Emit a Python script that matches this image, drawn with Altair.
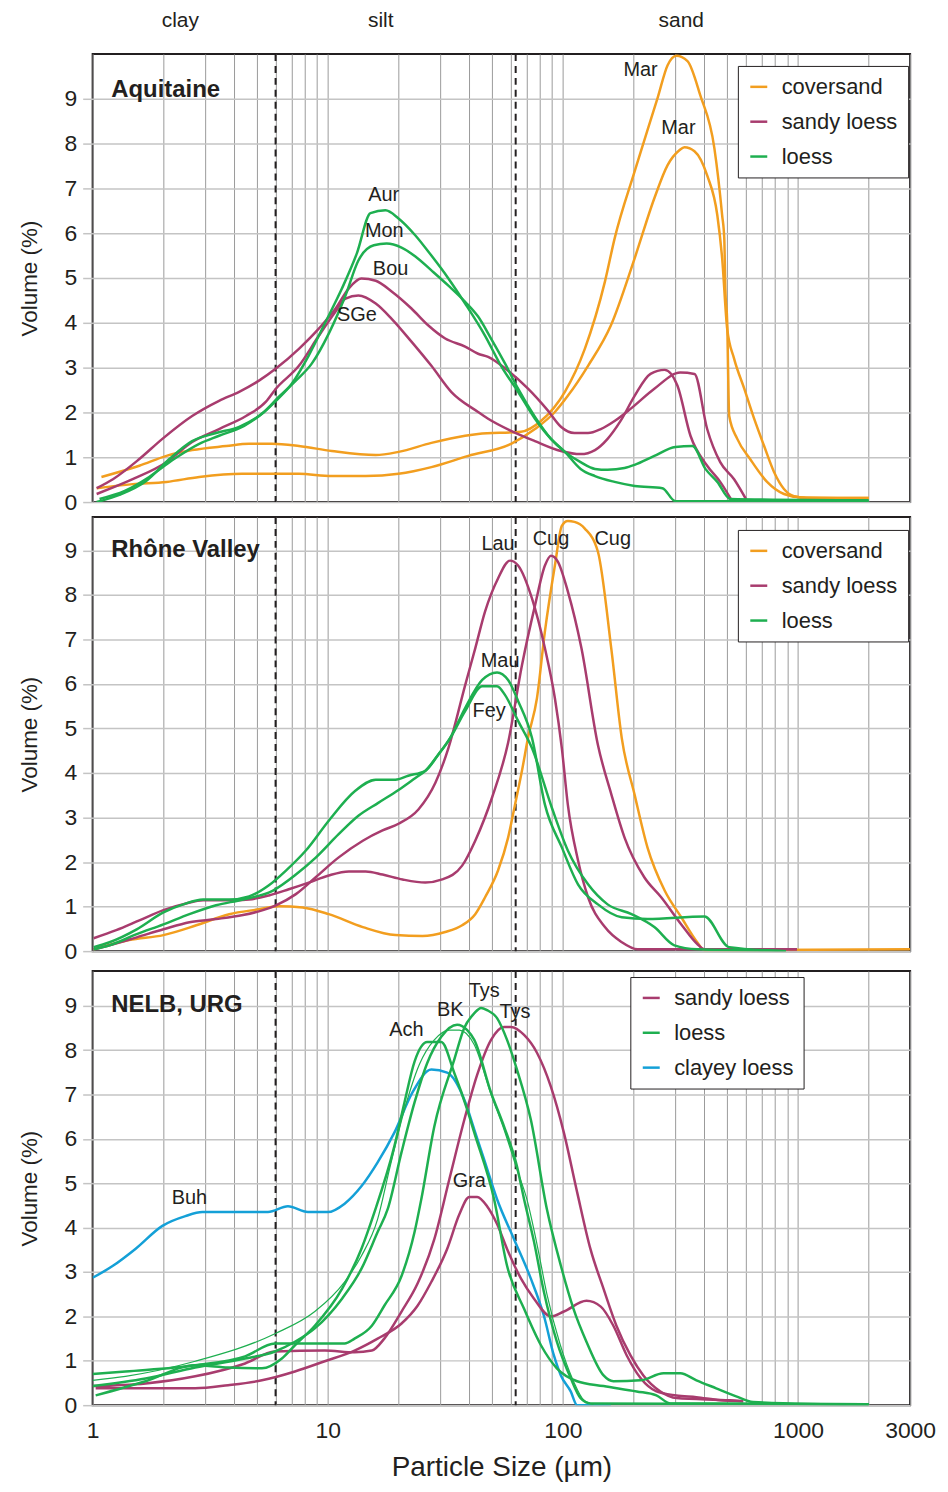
import altair as alt
import pandas as pd

# ------------------------------------------------------------------ data
# Panel 1 : Aquitaine  (x = particle size in µm, y = volume %)
aq_mar1_x = [1.09, 1.58, 2.06, 2.65, 3.70, 4.63, 5.79, 7.54, 10.4, 16.0, 20.0, 27.6, 38.4, 43.6, 66.4, 80.7, 102, 124, 151, 166, 202, 253, 279, 304, 339, 384, 441, 476, 486, 491, 500, 510, 552, 626, 739, 872, 1019, 2000]
aq_mar1_y = [0.56, 0.81, 1.03, 1.16, 1.25, 1.30, 1.30, 1.25, 1.14, 1.05, 1.12, 1.32, 1.48, 1.52, 1.57, 1.81, 2.46, 3.42, 4.92, 5.88, 7.38, 9.02, 9.75, 9.96, 9.84, 9.08, 7.90, 6.40, 5.88, 4.77, 4.03, 1.92, 1.41, 0.96, 0.45, 0.18, 0.11, 0.09]
aq_mar2_x = [1.04, 1.48, 2.06, 2.84, 4.32, 6.02, 7.54, 10.4, 14.5, 20.0, 27.6, 39.6, 60.2, 76.1, 92.5, 105, 128, 160, 202, 245, 279, 313, 329, 363, 411, 454, 476, 500, 535, 591, 651, 718, 791, 872, 962, 1091, 2000]
aq_mar2_y = [0.31, 0.40, 0.45, 0.56, 0.63, 0.63, 0.63, 0.58, 0.58, 0.63, 0.78, 1.03, 1.30, 1.63, 2.01, 2.37, 3.04, 3.94, 5.44, 6.78, 7.52, 7.85, 7.92, 7.83, 7.29, 6.40, 5.44, 3.87, 3.20, 2.53, 1.86, 1.25, 0.67, 0.29, 0.13, 0.09, 0.09]
aq_bou_x = [1.04, 1.22, 1.58, 1.98, 2.65, 3.45, 4.20, 5.10, 6.02, 7.54, 9.16, 10.8, 12.3, 13.9, 16.0, 18.7, 22.7, 26.8, 31.6, 38.4, 43.6, 48.1, 58.5, 71.1, 86.4, 98.1, 112, 128, 145, 166, 194, 245, 316, 363, 411, 467, 535, 608]
aq_bou_y = [0.31, 0.51, 0.96, 1.41, 1.92, 2.26, 2.46, 2.71, 2.98, 3.42, 3.87, 4.32, 4.77, 4.99, 4.94, 4.70, 4.32, 3.94, 3.65, 3.47, 3.31, 3.24, 2.93, 2.53, 2.04, 1.68, 1.54, 1.54, 1.63, 1.81, 2.08, 2.53, 2.89, 2.86, 1.63, 0.89, 0.51, 0.02]
aq_sge_x = [1.04, 1.48, 2.06, 2.65, 3.45, 4.49, 5.46, 6.02, 7.54, 9.16, 10.8, 11.9, 13.5, 16.0, 18.7, 22.7, 27.6, 33.5, 43.6, 48.1, 60.2, 76.1, 98.1, 119, 137, 155, 176, 202, 236, 271, 307, 349, 411, 467, 525]
aq_sge_y = [0.18, 0.51, 0.89, 1.34, 1.63, 1.92, 2.24, 2.53, 3.04, 3.71, 4.25, 4.54, 4.61, 4.43, 4.09, 3.58, 3.04, 2.46, 2.01, 1.86, 1.59, 1.36, 1.14, 1.07, 1.16, 1.41, 1.81, 2.37, 2.86, 2.95, 2.60, 1.48, 0.81, 0.45, 0.02]
aq_aur_x = [1.04, 1.30, 1.69, 2.12, 2.65, 3.35, 4.20, 5.25, 6.02, 7.03, 8.30, 9.81, 11.5, 13.3, 15.2, 17.6, 20.0, 23.6, 27.6, 32.6, 38.4, 46.7, 54.6, 64.5, 76.1, 89.0, 102, 119, 137, 166, 202, 265, 301, 2000]
aq_aur_y = [0.00, 0.16, 0.47, 0.96, 1.36, 1.54, 1.68, 1.97, 2.26, 2.64, 3.27, 4.03, 4.77, 5.55, 6.45, 6.51, 6.33, 5.95, 5.50, 4.99, 4.43, 3.71, 3.04, 2.46, 1.86, 1.41, 1.12, 0.74, 0.58, 0.45, 0.36, 0.31, 0.02, 0.02]
aq_mon_x = [1.07, 1.37, 1.74, 2.22, 2.84, 3.45, 4.41, 5.35, 6.20, 7.32, 8.55, 10.1, 11.9, 13.5, 15.7, 17.8, 20.6, 23.6, 27.6, 32.6, 38.4, 43.6, 49.5, 56.8, 64.5, 76.1, 89.0, 102, 119, 137, 155, 183, 202, 245, 301, 356, 404, 454, 515, 2000]
aq_mon_y = [0.07, 0.25, 0.56, 0.96, 1.30, 1.48, 1.70, 2.01, 2.35, 2.71, 3.09, 3.76, 4.61, 5.39, 5.73, 5.77, 5.68, 5.48, 5.17, 4.83, 4.47, 4.14, 3.65, 3.09, 2.53, 1.90, 1.41, 1.12, 0.89, 0.74, 0.72, 0.76, 0.83, 1.03, 1.23, 1.25, 0.74, 0.45, 0.07, 0.04]
aq_lbl_text = ["Mar", "Mar", "Aur", "Mon", "Bou", "SGe"]
aq_lbl_x = [214, 310, 17.3, 17.4, 18.5, 13.3]
aq_lbl_y = [9.64, 8.34, 6.85, 6.04, 5.21, 4.18]

# Panel 2 : Rhône Valley
rh_cugo_x = [1.01, 1.43, 2.00, 2.76, 3.81, 5.10, 6.20, 7.83, 10.1, 14.1, 19.4, 25.3, 31.6, 37.3, 42.4, 46.7, 53.0, 58.5, 62.6, 67.0, 71.1, 77.6, 83.9, 92.5, 99.0, 105, 112, 124, 141, 161, 178, 202, 229, 271, 319, 373, 400, 3000]
rh_cugo_y = [0.04, 0.25, 0.36, 0.58, 0.83, 0.94, 1.01, 0.98, 0.83, 0.54, 0.36, 0.34, 0.43, 0.58, 0.83, 1.21, 1.81, 2.55, 3.29, 4.05, 4.79, 5.68, 7.18, 8.66, 9.55, 9.66, 9.64, 9.49, 8.97, 6.76, 4.79, 3.51, 2.33, 1.36, 0.76, 0.20, 0.02, 0.04]
rh_lau_x = [1.01, 1.18, 1.54, 2.00, 2.58, 3.35, 4.36, 5.30, 6.02, 7.32, 8.89, 11.1, 14.1, 17.1, 20.0, 24.3, 28.7, 32.6, 38.4, 42.4, 46.7, 53.0, 59.6, 64.5, 73.9, 83.9, 92.5, 99.0, 105, 116, 128, 151, 178, 208, 990]
rh_lau_y = [0.04, 0.13, 0.31, 0.49, 0.65, 0.72, 0.81, 0.92, 1.03, 1.28, 1.66, 2.10, 2.48, 2.71, 2.86, 3.18, 3.78, 4.56, 5.97, 6.80, 7.63, 8.37, 8.77, 8.66, 7.92, 6.80, 5.68, 4.56, 3.29, 2.04, 1.21, 0.54, 0.20, 0.04, 0.04]
rh_cugp_x = [1.01, 1.26, 1.58, 2.00, 2.50, 2.95, 3.81, 4.63, 5.62, 6.83, 8.30, 10.1, 12.3, 14.5, 17.1, 20.8, 26.0, 30.7, 37.3, 42.4, 50.0, 58.5, 67.0, 76.1, 83.9, 89.0, 95.2, 105, 120, 141, 161, 183, 222, 262, 319, 373, 400, 990]
rh_cugp_y = [0.29, 0.47, 0.69, 0.92, 1.07, 1.14, 1.14, 1.16, 1.25, 1.39, 1.54, 1.70, 1.79, 1.79, 1.72, 1.61, 1.54, 1.61, 1.92, 2.48, 3.45, 4.68, 6.42, 7.76, 8.66, 8.88, 8.75, 8.08, 6.80, 4.63, 3.51, 2.55, 1.66, 1.21, 0.60, 0.16, 0.04, 0.04]
rh_mau_x = [1.01, 1.18, 1.54, 2.00, 2.43, 2.95, 3.81, 4.63, 5.62, 6.64, 8.07, 10.1, 13.1, 16.0, 19.4, 22.0, 26.0, 29.5, 33.2, 38.4, 45.4, 52.5, 58.5, 64.5, 73.9, 83.9, 99.0, 116, 141, 178, 229, 400, 510, 889]
rh_mau_y = [0.09, 0.20, 0.49, 0.87, 1.05, 1.16, 1.16, 1.23, 1.48, 1.81, 2.26, 2.93, 3.60, 3.85, 3.85, 3.94, 4.05, 4.41, 4.79, 5.46, 6.09, 6.26, 6.09, 5.62, 4.79, 3.29, 2.33, 1.50, 1.05, 0.76, 0.72, 0.78, 0.09, 0.0]
rh_fey_x = [1.01, 1.18, 1.54, 2.00, 2.58, 3.35, 4.36, 5.85, 7.32, 8.89, 11.1, 13.5, 16.4, 20.0, 23.6, 26.0, 29.5, 33.2, 38.4, 45.4, 52.5, 56.8, 64.5, 73.9, 89.8, 105, 128, 155, 196, 245, 298, 373, 889]
rh_fey_y = [0.04, 0.13, 0.38, 0.60, 0.83, 1.03, 1.16, 1.36, 1.72, 2.10, 2.62, 3.04, 3.33, 3.62, 3.89, 4.05, 4.41, 4.79, 5.39, 5.95, 5.95, 5.75, 5.17, 4.56, 3.22, 2.26, 1.50, 1.05, 0.83, 0.54, 0.13, 0.04, 0.0]
rh_lbl_text = ["Lau", "Cug", "Cug", "Mau", "Fey"]
rh_lbl_x = [53.0, 89.0, 163, 54.1, 48.6]
rh_lbl_y = [9.15, 9.26, 9.26, 6.51, 5.39]

# Panel 3 : NELB, URG
ne_buh_x = [1.00, 1.22, 1.52, 1.98, 2.48, 2.93, 3.77, 5.57, 6.77, 8.23, 10.0, 11.8, 13.9, 16.3, 19.2, 22.9, 27.6, 32.2, 38.1, 42.0, 46.2, 52.5, 62.0, 73.1, 83.0, 91.6, 98.1, 108, 115, 160]
ne_buh_y = [2.87, 3.14, 3.52, 4.04, 4.26, 4.35, 4.35, 4.35, 4.48, 4.35, 4.35, 4.54, 4.93, 5.47, 6.14, 7.04, 7.56, 7.49, 6.88, 6.21, 5.54, 4.64, 3.74, 2.85, 2.02, 1.12, 0.67, 0.31, 0.0, 0.0]
ne_ach_x = [1.03, 1.68, 2.73, 3.77, 5.25, 6.38, 7.25, 8.81, 11.5, 13.9, 15.8, 19.2, 21.2, 23.4, 26.5, 30.4, 34.5, 39.2, 42.0, 51.0, 57.9, 68.4, 80.7, 94.3, 115, 149, 206, 250, 287, 2000]
ne_ach_y = [0.22, 0.54, 0.90, 0.85, 0.83, 1.05, 1.35, 1.79, 2.62, 3.52, 4.35, 5.83, 6.82, 7.74, 8.18, 8.18, 7.49, 6.66, 6.14, 4.64, 3.14, 2.17, 1.35, 0.83, 0.54, 0.43, 0.31, 0.22, 0.04, 0.02]
ne_bk_x = [1.00, 1.68, 2.73, 4.45, 5.96, 7.25, 8.81, 11.5, 13.9, 16.3, 18.0, 20.6, 23.4, 26.5, 30.4, 35.5, 39.2, 42.0, 49.5, 56.2, 63.8, 68.4, 75.4, 83.0, 94.3, 108, 119, 131, 2000]
ne_bk_y = [0.43, 0.60, 0.85, 1.05, 1.21, 1.43, 1.73, 2.40, 3.07, 3.90, 4.42, 5.70, 6.82, 7.71, 8.30, 8.57, 8.45, 8.23, 7.04, 6.28, 5.38, 4.64, 3.68, 2.56, 1.43, 0.61, 0.16, 0.04, 0.02]
ne_bk2_x = [1.00, 1.38, 2.73, 5.96, 8.81, 11.8, 13.9, 16.3, 18.3, 21.2, 24.5, 28.4, 32.9, 36.3, 42.0, 49.5, 56.2, 63.8, 70.3, 77.6, 85.5, 97.1, 111, 123, 135]
ne_bk2_y = [0.56, 0.65, 0.99, 1.61, 2.11, 2.78, 3.36, 4.19, 5.31, 6.66, 7.67, 8.23, 8.45, 8.45, 8.12, 7.00, 6.21, 5.31, 4.64, 3.63, 2.51, 1.39, 0.54, 0.11, 0.02]
ne_tys_x = [1.00, 1.38, 2.73, 4.45, 5.96, 11.8, 13.0, 15.4, 17.4, 20.6, 23.4, 25.0, 28.4, 34.5, 38.1, 42.0, 44.9, 47.6, 52.5, 57.9, 63.8, 73.1, 85.5, 98.1, 111, 126, 149, 164, 214, 268, 316, 370, 449, 546, 644, 2000]
ne_tys_y = [0.70, 0.76, 0.90, 1.10, 1.39, 1.39, 1.50, 1.79, 2.24, 2.91, 3.90, 4.64, 6.28, 7.78, 8.50, 8.83, 8.95, 8.90, 8.72, 8.23, 7.56, 6.43, 4.42, 3.14, 2.17, 1.43, 0.67, 0.54, 0.56, 0.72, 0.72, 0.56, 0.38, 0.20, 0.07, 0.0]
ne_tysp_x = [1.00, 1.68, 2.73, 4.45, 5.96, 9.71, 13.0, 15.4, 17.4, 20.6, 24.1, 28.4, 32.9, 38.1, 43.2, 49.5, 56.2, 60.2, 68.4, 77.6, 89.0, 101, 115, 131, 149, 169, 194, 220, 260, 304, 515, 585]
ne_tysp_y = [0.43, 0.49, 0.65, 0.94, 1.21, 1.23, 1.19, 1.23, 1.50, 2.11, 2.74, 3.74, 5.09, 6.43, 7.44, 8.23, 8.52, 8.52, 8.34, 7.94, 7.17, 6.14, 4.80, 3.52, 2.62, 1.79, 1.12, 0.67, 0.31, 0.16, 0.11, 0.09]
ne_gra_x = [1.03, 2.73, 3.77, 5.25, 7.25, 9.71, 13.0, 16.3, 20.6, 24.1, 27.6, 32.2, 36.3, 40.0, 43.2, 47.6, 52.5, 57.9, 66.4, 75.4, 89.0, 101, 126, 145, 164, 187, 214, 250, 304, 370, 467, 585]
ne_gra_y = [0.38, 0.38, 0.45, 0.56, 0.76, 0.99, 1.23, 1.50, 1.84, 2.24, 2.78, 3.52, 4.30, 4.69, 4.69, 4.48, 4.08, 3.52, 2.85, 2.40, 2.00, 2.11, 2.35, 2.22, 1.79, 1.12, 0.61, 0.31, 0.22, 0.18, 0.11, 0.09]
ne_lbl_text = ["Buh", "Ach", "BK", "Tys", "Tys", "Gra"]
ne_lbl_x = [2.58, 21.6, 33.2, 46.3, 62.6, 40.0]
ne_lbl_y = [4.66, 8.45, 8.90, 9.33, 8.86, 5.04]

panel_titles = ["Aquitaine", "Rhône Valley", "NELB, URG"]
panel_title_x = [1.2, 1.2, 1.2]
panel_title_y = [9.04, 8.86, 8.86]
fraction_names = ["clay", "silt", "sand"]
fraction_x = [2.36, 16.8, 319]
boundaries = [6, 63]
grid_values = [1, 2, 3, 4, 5, 6, 7, 8, 9, 10, 20, 30, 40, 50, 60, 70, 80, 90,
               100, 200, 300, 400, 500, 600, 700, 800, 900, 1000, 2000, 3000]
x_label_values = [1, 10, 100, 1000, 3000]

# ------------------------------------------------------------------ style
FONT = "Liberation Sans, Arial, sans-serif"
INK = "#231f20"
COLORS = {"coversand": "#F29E1F", "sandy loess": "#A83C6E",
          "loess": "#1EAF50", "clayey loess": "#14A0D7"}
W = 821


def curves_df(curves):
    rows = []
    for name, cat, xs, ys, w in curves:
        for x, y in zip(xs, ys):
            rows.append({"curve": name, "cat": cat, "x": x, "y": y, "w": w})
    return pd.DataFrame(rows)


def panel(curves, lbl, title_idx, ymax, height, cats, lx, ly, bottom=False, top=False):
    xscale = alt.Scale(type="log", domain=[1, 3000], nice=False)
    yscale = alt.Scale(domain=[0, ymax], nice=False, zero=True)
    lab_expr = " || ".join(f"datum.value == {v}" for v in x_label_values)
    if bottom:
        xaxis = alt.Axis(values=grid_values, grid=True, gridColor="#9a9a9a", gridWidth=1,
                         ticks=False, domain=False, labels=True, labelFlush=False,
                         labelOverlap=False,
                         labelExpr=f"({lab_expr}) ? format(datum.value, 'd') : ''",
                         labelFont=FONT, labelFontSize=23, labelColor=INK, labelPadding=14,
                         title="Particle Size (µm)", titleFont=FONT, titleFontSize=28,
                         titleFontWeight="normal", titleColor=INK, titlePadding=12)
        xt = "Particle Size (µm)"
    else:
        xaxis = alt.Axis(values=grid_values, grid=True, gridColor="#9a9a9a", gridWidth=1,
                         ticks=False, domain=False, labels=False)
        xt = None
    yaxis = alt.Axis(values=list(range(10)), grid=True, gridColor="#c4c4c4", gridWidth=1.5,
                     tickColor="#c4c4c4", tickSize=10, tickWidth=1.5, domain=False,
                     labelFont=FONT, labelFontSize=23, labelColor=INK, labelPadding=6,
                     title="Volume (%)", titleFont=FONT, titleFontSize=22.5,
                     titleFontWeight="normal", titleColor=INK, titlePadding=23)

    def X():
        return alt.X("x:Q", scale=xscale, axis=xaxis, title=xt)

    def Y():
        return alt.Y("y:Q", scale=yscale, axis=yaxis, title="Volume (%)")

    df = curves_df(curves)
    legend = alt.Legend(orient="none", legendX=lx, legendY=ly, title=None,
                        symbolType="stroke", symbolSize=290, symbolStrokeWidth=2.5,
                        labelFont=FONT, labelFontSize=22, labelColor=INK,
                        labelOffset=12, padding=10, rowPadding=13,
                        strokeColor=INK, fillColor="white")
    lines = alt.Chart(df).mark_line(interpolate="monotone", clip=True).encode(
        x=X(), y=Y(),
        color=alt.Color("cat:N", scale=alt.Scale(domain=cats, range=[COLORS[c] for c in cats]),
                        legend=legend),
        detail="curve:N",
        strokeWidth=alt.StrokeWidth("w:Q", scale=None, legend=None),
    )
    rules = alt.Chart(pd.DataFrame({"x": boundaries})).mark_rule(
        strokeDash=[7, 5], color=INK, strokeWidth=2).encode(x=X())
    ltxt, lxv, lyv = lbl
    labels = alt.Chart(pd.DataFrame({"t": ltxt, "x": lxv, "y": lyv})).mark_text(
        font=FONT, fontSize=20, color=INK, baseline="middle").encode(x=X(), y=Y(), text="t:N")
    ttl = alt.Chart(pd.DataFrame({"t": [panel_titles[title_idx]],
                                  "x": [panel_title_x[title_idx]],
                                  "y": [panel_title_y[title_idx]]})).mark_text(
        font=FONT, fontSize=24, fontWeight="bold", color=INK, align="left",
        baseline="alphabetic").encode(x=X(), y=Y(), text="t:N")
    layers = [rules, lines, labels, ttl]
    if top:
        frac = alt.Chart(pd.DataFrame({"t": fraction_names, "x": fraction_x})).mark_text(
            font=FONT, fontSize=21, color=INK, baseline="top").encode(
            x=X(), y=alt.value(-44), text="t:N")
        layers.append(frac)
    return alt.layer(*layers).properties(width=W, height=height)


p1 = panel([
    ("Mar1", "coversand", aq_mar1_x, aq_mar1_y, 2.5),
    ("Mar2", "coversand", aq_mar2_x, aq_mar2_y, 2.5),
    ("Bou", "sandy loess", aq_bou_x, aq_bou_y, 2.5),
    ("SGe", "sandy loess", aq_sge_x, aq_sge_y, 2.5),
    ("Aur", "loess", aq_aur_x, aq_aur_y, 2.5),
    ("Mon", "loess", aq_mon_x, aq_mon_y, 2.5),
], (aq_lbl_text, aq_lbl_x, aq_lbl_y), 0, 10.0, 450,
    ["coversand", "sandy loess", "loess"], 648, 12, top=True)

p2 = panel([
    ("CugO", "coversand", rh_cugo_x, rh_cugo_y, 2.5),
    ("Lau", "sandy loess", rh_lau_x, rh_lau_y, 2.5),
    ("CugP", "sandy loess", rh_cugp_x, rh_cugp_y, 2.5),
    ("Mau", "loess", rh_mau_x, rh_mau_y, 2.5),
    ("Fey", "loess", rh_fey_x, rh_fey_y, 2.5),
], (rh_lbl_text, rh_lbl_x, rh_lbl_y), 1, 9.75, 436,
    ["coversand", "sandy loess", "loess"], 648, 13)

p3 = panel([
    ("Buh", "clayey loess", ne_buh_x, ne_buh_y, 2.5),
    ("TysP", "sandy loess", ne_tysp_x, ne_tysp_y, 2.5),
    ("Gra", "sandy loess", ne_gra_x, ne_gra_y, 2.5),
    ("Ach", "loess", ne_ach_x, ne_ach_y, 2.5),
    ("BK", "loess", ne_bk_x, ne_bk_y, 2.5),
    ("BK2", "loess", ne_bk2_x, ne_bk2_y, 1.2),
    ("Tys", "loess", ne_tys_x, ne_tys_y, 2.5),
], (ne_lbl_text, ne_lbl_x, ne_lbl_y), 2, 9.78, 436,
    ["sandy loess", "loess", "clayey loess"], 540, 6, bottom=True)

upper = alt.vconcat(p1, p2, spacing=0).resolve_scale(
    color="independent", x="independent", y="independent"
).resolve_legend(color="independent")

chart = alt.vconcat(upper, p3, spacing=5).resolve_scale(
    color="independent", x="independent", y="independent"
).resolve_legend(color="independent").properties(
    padding={"left": 9, "top": -2, "right": 3, "bottom": 3}
).configure_view(stroke=INK, strokeWidth=2)

chart.save("out.html", embed_options={"renderer": "svg", "actions": False})
